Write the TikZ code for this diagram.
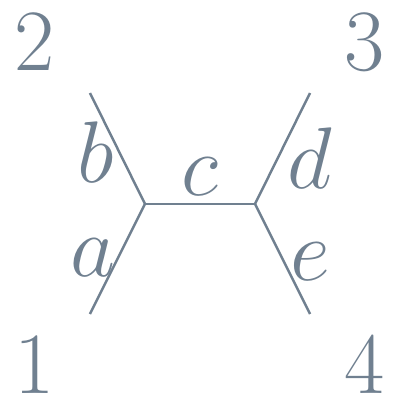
\documentclass[tikz,border=0pt]{standalone}
\usepackage{amsmath}
\usepackage{tikz}
\definecolor{ink}{RGB}{112,128,144}

\begin{document}
\begin{tikzpicture}
    \tikzset{leg/.style = {draw=ink,line width=0.7pt}}
    \tikzset{lab/.style = {text=ink,font=\fontsize{23}{27}\selectfont,inner sep=0pt}}
    \useasboundingbox (0,0) rectangle (3.98,3.98);

    % vertices
    \coordinate (u) at (1.45,1.94);
    \coordinate (v) at (2.55,1.94);
    \coordinate (p1) at (0.90,0.84);
    \coordinate (p2) at (0.90,3.05);
    \coordinate (p3) at (3.10,3.05);
    \coordinate (p4) at (3.10,0.84);

    % external labels
    \node[lab] (n1) at (0.35,0.33) {$1$};
    \node[lab] (n2) at (0.35,3.56) {$2$};
    \node[lab] (n3) at (3.65,3.56) {$3$};
    \node[lab] (n4) at (3.65,0.33) {$4$};

    % edges
    \draw[leg] (p1) -- (u);
    \draw[leg] (p2) -- (u);
    \draw[leg] (u) -- (v);
    \draw[leg] (v) -- (p3);
    \draw[leg] (v) -- (p4);

    % edge labels
    \node[lab] (la) at (0.93,1.40) {$a$};
    \node[lab] (lb) at (0.96,2.46) {$b$};
    \node[lab] (lc) at (2.00,2.21) {$c$};
    \node[lab] (ld) at (3.10,2.40) {$d$};
    \node[lab] (le) at (3.10,1.36) {$e$};
\end{tikzpicture}
\end{document}
